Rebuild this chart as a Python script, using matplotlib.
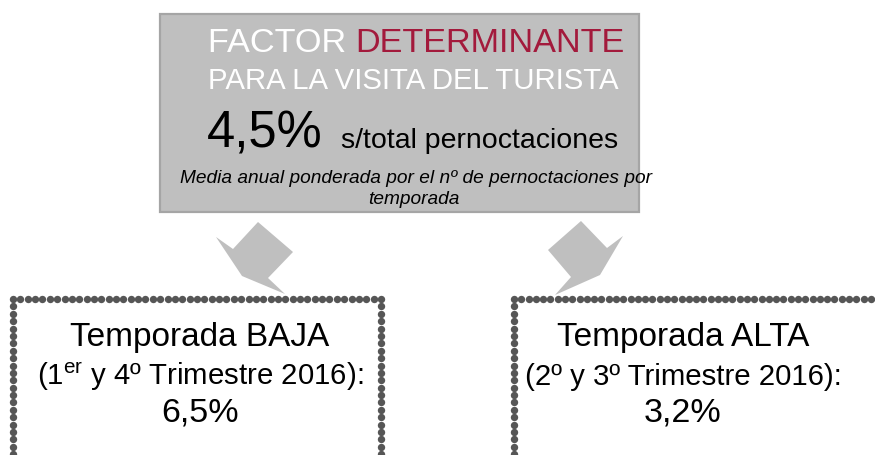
import matplotlib
matplotlib.use("Agg")
import numpy as np
import matplotlib.pyplot as plt
from matplotlib.patches import Rectangle, Polygon

plt.rcParams['font.family'] = ['Liberation Sans', 'DejaVu Sans']
plt.rcParams['mathtext.fontset'] = 'custom'
plt.rcParams['mathtext.rm'] = 'Liberation Sans'
plt.rcParams['mathtext.it'] = 'Liberation Sans:italic'

# ---- data ----
title_white = "FACTOR "
title_red = "DETERMINANTE"
subtitle = "PARA LA VISITA DEL TURISTA"
total_value = 4.5
total_label = "s/total pernoctaciones"
note_lines = ["Media anual ponderada por el nº de pernoctaciones por", "temporada"]
season_names = ["Temporada BAJA", "Temporada ALTA"]
season_periods = ["(1$^{\\mathrm{er}}$ y 4º Trimestre 2016):", "(2º y 3º Trimestre 2016):"]
season_values = [6.5, 3.2]


def fmt(v):
    return f"{v:.1f}".replace(".", ",") + "%"


W, H = 875, 456
fig = plt.figure(figsize=(W / 100, H / 100), dpi=100)
ax = fig.add_axes([0, 0, 1, 1])
ax.set_xlim(0, W)
ax.set_ylim(H, 0)
ax.axis('off')

BOX_GRAY = '#BFBFBF'
EDGE_GRAY = '#A5A5A5'
RED = '#A31A3C'
DOT = '#565656'

# top box
ax.add_patch(Rectangle((160, 15), 479, 198, facecolor=BOX_GRAY,
                       edgecolor=EDGE_GRAY, linewidth=1.6, zorder=1))

t1 = ax.text(208, 52, title_white, color='white', fontsize=24.7,
             ha='left', va='baseline', zorder=3)
ax.annotate(title_red, xy=(1, 0), xycoords=t1, ha='left', va='bottom',
            color=RED, fontsize=24.7, zorder=3)
ax.text(413, 89, subtitle, color='white', fontsize=21.2, ha='center',
        va='baseline', zorder=3)
ax.text(207, 148, fmt(total_value), color='black', fontsize=36.5,
        ha='left', va='baseline', zorder=3)
ax.text(341, 148, total_label, color='black', fontsize=20.5,
        ha='left', va='baseline', zorder=3)
ax.text(416, 183, note_lines[0], color='black', fontsize=13.8,
        style='italic', ha='center', va='baseline', zorder=3)
ax.text(414, 204, note_lines[1], color='black', fontsize=13.8,
        style='italic', ha='center', va='baseline', zorder=3)

# arrows
arrow_left = [(216, 238), (233, 250), (258, 223), (293, 253), (268, 279),
              (285, 295), (242, 277)]
arrow_right = [(623, 237), (607, 249), (581, 222), (548, 251), (571, 278),
               (555, 296), (600, 276)]
for pts in (arrow_left, arrow_right):
    ax.add_patch(Polygon(pts, closed=True, facecolor=BOX_GRAY,
                         edgecolor='none', zorder=2))

# dotted boxes drawn as round dots along the edges
STEP = 7.3


def dotted_path(points):
    xs, ys = [], []
    for (x0, y0), (x1, y1) in zip(points[:-1], points[1:]):
        n = max(int(round(np.hypot(x1 - x0, y1 - y0) / STEP)), 1)
        t = np.linspace(0, 1, n + 1)[:-1]
        xs.extend(x0 + (x1 - x0) * t)
        ys.extend(y0 + (y1 - y0) * t)
    xs.append(points[-1][0])
    ys.append(points[-1][1])
    ax.plot(xs, ys, linestyle='none', marker='o', markersize=5.3,
            markerfacecolor=DOT, markeredgecolor='none', zorder=4,
            clip_on=True)


dotted_path([(13, 470), (13, 300), (381, 300), (381, 470)])
dotted_path([(514, 470), (514, 300), (900, 300)])

centers = [200, 683]
for cx, name, period, val in zip(centers, season_names, season_periods,
                                 season_values):
    ax.text(cx, 346, name, color='black', fontsize=24, ha='center',
            va='baseline', zorder=3)
    ax.text(cx, 385, period, color='black', fontsize=21.2, ha='center',
            va='baseline', zorder=3)
    ax.text(cx, 422, fmt(val), color='black', fontsize=24.5, ha='center',
            va='baseline', zorder=3)

fig.savefig('out.png', dpi=100, facecolor='white')
